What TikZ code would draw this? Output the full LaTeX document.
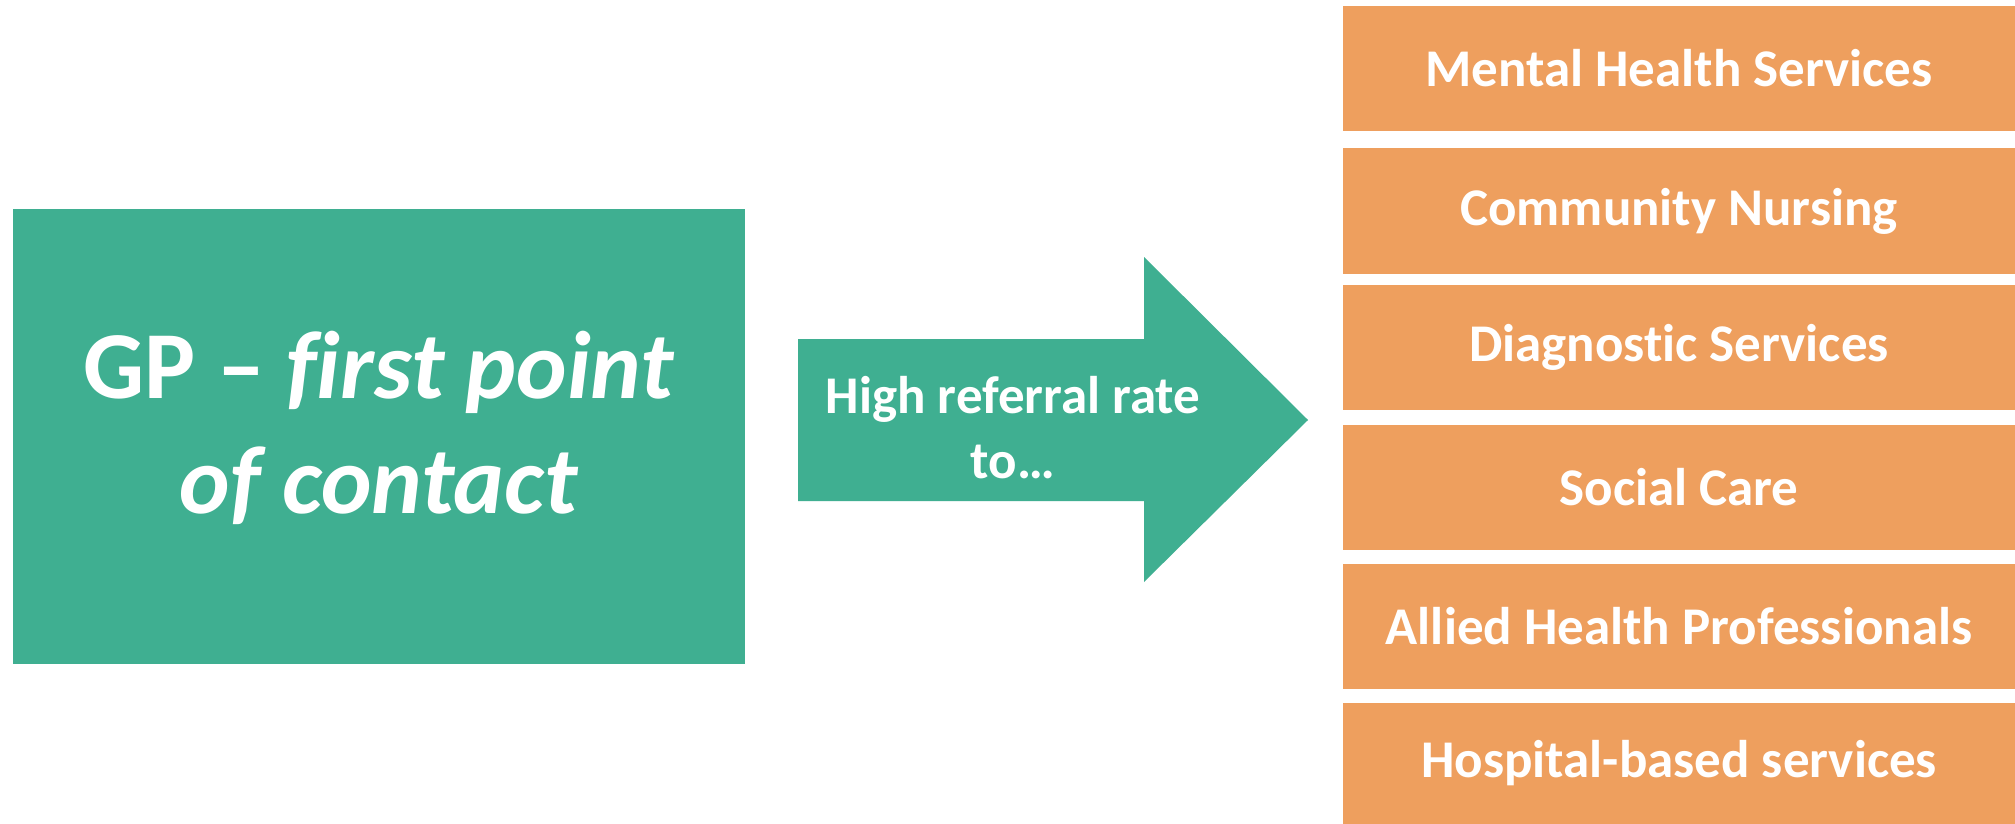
\documentclass[tikz,border=0pt]{standalone}
\usepackage{fontspec}
\setmainfont{Carlito}[Ligatures=NoCommon]
\definecolor{gpgreen}{RGB}{63,175,145}
\definecolor{svcorange}{RGB}{238,159,94}
\begin{document}
\begin{tikzpicture}[x=0.5pt,y=-0.5pt,
  obox/.style={fill=svcorange, draw=none, inner sep=0pt, minimum width=336pt,
    text=white, font=\fontsize{26.5}{32}\selectfont\bfseries, align=center},
  gbox/.style={fill=gpgreen, draw=none, inner sep=0pt, minimum width=366pt, minimum height=227.5pt,
    text=white, font=\fontsize{48}{57.5}\selectfont\bfseries, align=center},
  arrowtext/.style={text=white, font=\fontsize{26.5}{32.5}\selectfont\bfseries, align=center, inner sep=0pt}]
\fill[white] (0,0) rectangle (2015,824);
\useasboundingbox (0,0) rectangle (2015,824);
% GP box
\node[gbox] (gp) at (379,436.5) {};
\node[text=white, font=\fontsize{48}{57.5}\selectfont\bfseries, align=center, inner sep=0pt] (gptext) at (379,428) {GP -- \textit{first point}\\\textit{of contact}};
% block arrow
\coordinate (a1) at (798,339);
\coordinate (a2) at (1144,339);
\coordinate (a3) at (1144,257);
\coordinate (tip) at (1308,420);
\coordinate (a5) at (1144,582);
\coordinate (a6) at (1144,501);
\coordinate (a7) at (798,501);
\fill[gpgreen] (a1) -- (a2) -- (a3) -- (tip) -- (a5) -- (a6) -- (a7) -- cycle;
\node[arrowtext] (ref) at (1013,428) {High referral rate\\to\dots};
% service boxes
\node[obox, minimum height=62.5pt] (s1) at (1679,68.5) {Mental Health Services};
\node[obox, minimum height=63pt] (s2) at (1679,211) {Community Nursing};
\node[obox, minimum height=62.5pt] (s3) at (1679,347.5) {Diagnostic Services};
\node[obox, minimum height=62.5pt] (s4) at (1679,487.5) {Social Care};
\node[obox, minimum height=62.5pt] (s5) at (1679,626.5) {Allied Health Professionals};
\node[obox, minimum height=60.5pt] (s6) at (1679,763.5) {Hospital-based services};
\end{tikzpicture}
\end{document}
